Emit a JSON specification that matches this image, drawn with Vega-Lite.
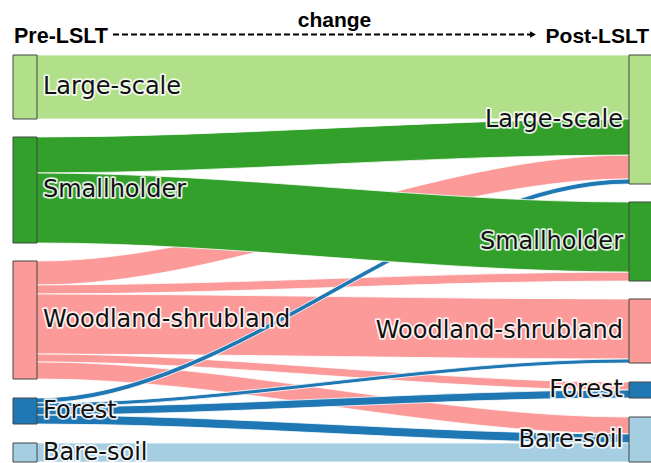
{
  "$schema": "https://vega.github.io/schema/vega-lite/v6.json",
  "width": 651,
  "height": 463,
  "padding": 0,
  "autosize": {"type": "none"},
  "config": {"view": {"stroke": null}},
  "datasets": {
    "links": [
      {"link": "LS-LS", "src": "Large-scale", "x": 13, "y0": 55, "y1": 119},
      {"link": "LS-LS", "src": "Large-scale", "x": 37, "y0": 55, "y1": 119},
      {"link": "LS-LS", "src": "Large-scale", "x": 629, "y0": 55, "y1": 119},
      {"link": "LS-LS", "src": "Large-scale", "x": 651, "y0": 55, "y1": 119},
      {"link": "SH-LS", "src": "Smallholder", "x": 13, "y0": 137, "y1": 173},
      {"link": "SH-LS", "src": "Smallholder", "x": 37, "y0": 137, "y1": 173},
      {"link": "SH-LS", "src": "Smallholder", "x": 629, "y0": 119, "y1": 155},
      {"link": "SH-LS", "src": "Smallholder", "x": 651, "y0": 119, "y1": 155},
      {"link": "SH-SH", "src": "Smallholder", "x": 13, "y0": 173, "y1": 243},
      {"link": "SH-SH", "src": "Smallholder", "x": 37, "y0": 173, "y1": 243},
      {"link": "SH-SH", "src": "Smallholder", "x": 629, "y0": 202, "y1": 272},
      {"link": "SH-SH", "src": "Smallholder", "x": 651, "y0": 202, "y1": 272},
      {"link": "WS-LS", "src": "Woodland-shrubland", "x": 13, "y0": 261, "y1": 285},
      {"link": "WS-LS", "src": "Woodland-shrubland", "x": 37, "y0": 261, "y1": 285},
      {"link": "WS-LS", "src": "Woodland-shrubland", "x": 629, "y0": 155, "y1": 179},
      {"link": "WS-LS", "src": "Woodland-shrubland", "x": 651, "y0": 155, "y1": 179},
      {"link": "WS-SH", "src": "Woodland-shrubland", "x": 13, "y0": 285, "y1": 294},
      {"link": "WS-SH", "src": "Woodland-shrubland", "x": 37, "y0": 285, "y1": 294},
      {"link": "WS-SH", "src": "Woodland-shrubland", "x": 629, "y0": 272, "y1": 281},
      {"link": "WS-SH", "src": "Woodland-shrubland", "x": 651, "y0": 272, "y1": 281},
      {"link": "WS-WS", "src": "Woodland-shrubland", "x": 13, "y0": 294, "y1": 354},
      {"link": "WS-WS", "src": "Woodland-shrubland", "x": 37, "y0": 294, "y1": 354},
      {"link": "WS-WS", "src": "Woodland-shrubland", "x": 629, "y0": 299, "y1": 359},
      {"link": "WS-WS", "src": "Woodland-shrubland", "x": 651, "y0": 299, "y1": 359},
      {"link": "WS-F", "src": "Woodland-shrubland", "x": 13, "y0": 354, "y1": 362},
      {"link": "WS-F", "src": "Woodland-shrubland", "x": 37, "y0": 354, "y1": 362},
      {"link": "WS-F", "src": "Woodland-shrubland", "x": 629, "y0": 382, "y1": 390},
      {"link": "WS-F", "src": "Woodland-shrubland", "x": 651, "y0": 382, "y1": 390},
      {"link": "WS-BS", "src": "Woodland-shrubland", "x": 13, "y0": 362, "y1": 379},
      {"link": "WS-BS", "src": "Woodland-shrubland", "x": 37, "y0": 362, "y1": 379},
      {"link": "WS-BS", "src": "Woodland-shrubland", "x": 629, "y0": 417, "y1": 434},
      {"link": "WS-BS", "src": "Woodland-shrubland", "x": 651, "y0": 417, "y1": 434},
      {"link": "F-LS", "src": "Forest", "x": 13, "y0": 398, "y1": 403},
      {"link": "F-LS", "src": "Forest", "x": 37, "y0": 398, "y1": 403},
      {"link": "F-LS", "src": "Forest", "x": 629, "y0": 179, "y1": 184},
      {"link": "F-LS", "src": "Forest", "x": 651, "y0": 179, "y1": 184},
      {"link": "F-WS", "src": "Forest", "x": 13, "y0": 403, "y1": 407},
      {"link": "F-WS", "src": "Forest", "x": 37, "y0": 403, "y1": 407},
      {"link": "F-WS", "src": "Forest", "x": 629, "y0": 359, "y1": 363},
      {"link": "F-WS", "src": "Forest", "x": 651, "y0": 359, "y1": 363},
      {"link": "F-F", "src": "Forest", "x": 13, "y0": 407, "y1": 415},
      {"link": "F-F", "src": "Forest", "x": 37, "y0": 407, "y1": 415},
      {"link": "F-F", "src": "Forest", "x": 629, "y0": 390, "y1": 398},
      {"link": "F-F", "src": "Forest", "x": 651, "y0": 390, "y1": 398},
      {"link": "F-BS", "src": "Forest", "x": 13, "y0": 415, "y1": 424},
      {"link": "F-BS", "src": "Forest", "x": 37, "y0": 415, "y1": 424},
      {"link": "F-BS", "src": "Forest", "x": 629, "y0": 434, "y1": 443},
      {"link": "F-BS", "src": "Forest", "x": 651, "y0": 434, "y1": 443},
      {"link": "BS-BS", "src": "Bare-soil", "x": 13, "y0": 443, "y1": 462},
      {"link": "BS-BS", "src": "Bare-soil", "x": 37, "y0": 443, "y1": 462},
      {"link": "BS-BS", "src": "Bare-soil", "x": 629, "y0": 443, "y1": 462},
      {"link": "BS-BS", "src": "Bare-soil", "x": 651, "y0": 443, "y1": 462}
    ],
    "nodes": [
      {"node": "Large-scale", "stage": "pre", "x0": 13, "x1": 37, "y0": 55, "y1": 119},
      {"node": "Smallholder", "stage": "pre", "x0": 13, "x1": 37, "y0": 137, "y1": 243},
      {"node": "Woodland-shrubland", "stage": "pre", "x0": 13, "x1": 37, "y0": 261, "y1": 379},
      {"node": "Forest", "stage": "pre", "x0": 13, "x1": 37, "y0": 398, "y1": 424},
      {"node": "Bare-soil", "stage": "pre", "x0": 13, "x1": 37, "y0": 443, "y1": 462},
      {"node": "Large-scale", "stage": "post", "x0": 629, "x1": 660, "y0": 55, "y1": 184},
      {"node": "Smallholder", "stage": "post", "x0": 629, "x1": 660, "y0": 202, "y1": 281},
      {"node": "Woodland-shrubland", "stage": "post", "x0": 629, "x1": 660, "y0": 299, "y1": 363},
      {"node": "Forest", "stage": "post", "x0": 629, "x1": 660, "y0": 382, "y1": 398},
      {"node": "Bare-soil", "stage": "post", "x0": 629, "x1": 660, "y0": 417, "y1": 462}
    ],
    "header": [
      {"t": "Pre-LSLT", "pos": "left", "x": 14, "y": 43},
      {"t": "Post-LSLT", "pos": "right", "x": 649, "y": 43},
      {"t": "change", "pos": "center", "x": 334.5, "y": 26.7}
    ],
    "arrow": [
      {"x": 113, "x2": 533, "y": 34.5}
    ]
  },
  "layer": [
    {
      "data": {"name": "links"},
      "transform": [{"filter": "datum.src === 'Woodland-shrubland'"}],
      "mark": {"type": "area", "interpolate": "monotone", "stroke": "white", "strokeWidth": 0.8},
      "encoding": {
        "x": {"field": "x", "type": "quantitative", "scale": {"domain": [0, 651], "nice": false, "zero": false}, "axis": null},
        "y": {"field": "y0", "type": "quantitative", "scale": {"domain": [0, 463], "reverse": true, "nice": false, "zero": false}, "axis": null},
        "y2": {"field": "y1"},
        "color": {"field": "src", "type": "nominal", "legend": null, "scale": {"domain": ["Large-scale", "Smallholder", "Woodland-shrubland", "Forest", "Bare-soil"], "range": ["#b2df8a", "#33a02c", "#fb9a99", "#1f78b4", "#a6cee3"]}},
        "detail": {"field": "link"}
      }
    },
    {
      "data": {"name": "links"},
      "transform": [{"filter": "datum.src === 'Forest'"}],
      "mark": {"type": "area", "interpolate": "monotone", "stroke": "white", "strokeWidth": 0.8},
      "encoding": {
        "x": {"field": "x", "type": "quantitative"},
        "y": {"field": "y0", "type": "quantitative"},
        "y2": {"field": "y1"},
        "color": {"field": "src", "type": "nominal", "legend": null},
        "detail": {"field": "link"}
      }
    },
    {
      "data": {"name": "links"},
      "transform": [{"filter": "datum.src !== 'Forest' && datum.src !== 'Woodland-shrubland'"}],
      "mark": {"type": "area", "interpolate": "monotone", "stroke": "white", "strokeWidth": 0.8},
      "encoding": {
        "x": {"field": "x", "type": "quantitative"},
        "y": {"field": "y0", "type": "quantitative"},
        "y2": {"field": "y1"},
        "color": {"field": "src", "type": "nominal", "legend": null},
        "detail": {"field": "link"}
      }
    },
    {
      "data": {"name": "nodes"},
      "mark": {"type": "rect", "stroke": "#444444", "strokeWidth": 1},
      "encoding": {
        "x": {"field": "x0", "type": "quantitative"},
        "x2": {"field": "x1"},
        "y": {"field": "y0", "type": "quantitative"},
        "y2": {"field": "y1"},
        "color": {"field": "node", "type": "nominal", "legend": null}
      }
    },
    {
      "data": {"name": "nodes"},
      "transform": [
        {"filter": "datum.stage === 'pre'"},
        {"calculate": "(datum.y0 + datum.y1) / 2", "as": "mid"}
      ],
      "mark": {"type": "text", "align": "left", "baseline": "middle", "dx": 6, "font": "DejaVu Sans", "fontSize": 24, "fill": "white", "stroke": "white", "strokeWidth": 3.5, "strokeJoin": "round", "strokeOpacity": 0.85},
      "encoding": {
        "x": {"field": "x1", "type": "quantitative"},
        "y": {"field": "mid", "type": "quantitative"},
        "text": {"field": "node"}
      }
    },
    {
      "data": {"name": "nodes"},
      "transform": [
        {"filter": "datum.stage === 'pre'"},
        {"calculate": "(datum.y0 + datum.y1) / 2", "as": "mid"}
      ],
      "mark": {"type": "text", "align": "left", "baseline": "middle", "dx": 6, "font": "DejaVu Sans", "fontSize": 24, "fill": "#111111"},
      "encoding": {
        "x": {"field": "x1", "type": "quantitative"},
        "y": {"field": "mid", "type": "quantitative"},
        "text": {"field": "node"}
      }
    },
    {
      "data": {"name": "nodes"},
      "transform": [
        {"filter": "datum.stage === 'post'"},
        {"calculate": "(datum.y0 + datum.y1) / 2", "as": "mid"}
      ],
      "mark": {"type": "text", "align": "right", "baseline": "middle", "dx": -6, "font": "DejaVu Sans", "fontSize": 24, "fill": "white", "stroke": "white", "strokeWidth": 3.5, "strokeJoin": "round", "strokeOpacity": 0.85},
      "encoding": {
        "x": {"field": "x0", "type": "quantitative"},
        "y": {"field": "mid", "type": "quantitative"},
        "text": {"field": "node"}
      }
    },
    {
      "data": {"name": "nodes"},
      "transform": [
        {"filter": "datum.stage === 'post'"},
        {"calculate": "(datum.y0 + datum.y1) / 2", "as": "mid"}
      ],
      "mark": {"type": "text", "align": "right", "baseline": "middle", "dx": -6, "font": "DejaVu Sans", "fontSize": 24, "fill": "#111111"},
      "encoding": {
        "x": {"field": "x0", "type": "quantitative"},
        "y": {"field": "mid", "type": "quantitative"},
        "text": {"field": "node"}
      }
    },
    {
      "data": {"name": "arrow"},
      "mark": {"type": "rule", "strokeDash": [6, 3], "strokeWidth": 1.8, "color": "black"},
      "encoding": {
        "x": {"field": "x", "type": "quantitative"},
        "x2": {"field": "x2"},
        "y": {"field": "y", "type": "quantitative"}
      }
    },
    {
      "data": {"name": "arrow"},
      "mark": {"type": "point", "shape": "triangle-right", "filled": true, "size": 45, "color": "black", "opacity": 1},
      "encoding": {
        "x": {"field": "x2", "type": "quantitative"},
        "y": {"field": "y", "type": "quantitative"}
      }
    },
    {
      "data": {"name": "header"},
      "transform": [{"filter": "datum.pos === 'left'"}],
      "mark": {"type": "text", "align": "left", "baseline": "alphabetic", "font": "Liberation Sans", "fontWeight": "bold", "fontSize": 21.5, "fill": "black"},
      "encoding": {
        "x": {"field": "x", "type": "quantitative"},
        "y": {"field": "y", "type": "quantitative"},
        "text": {"field": "t"}
      }
    },
    {
      "data": {"name": "header"},
      "transform": [{"filter": "datum.pos === 'right'"}],
      "mark": {"type": "text", "align": "right", "baseline": "alphabetic", "font": "Liberation Sans", "fontWeight": "bold", "fontSize": 21, "fill": "black"},
      "encoding": {
        "x": {"field": "x", "type": "quantitative"},
        "y": {"field": "y", "type": "quantitative"},
        "text": {"field": "t"}
      }
    },
    {
      "data": {"name": "header"},
      "transform": [{"filter": "datum.pos === 'center'"}],
      "mark": {"type": "text", "align": "center", "baseline": "alphabetic", "font": "Liberation Sans", "fontWeight": "bold", "fontSize": 21, "fill": "black"},
      "encoding": {
        "x": {"field": "x", "type": "quantitative"},
        "y": {"field": "y", "type": "quantitative"},
        "text": {"field": "t"}
      }
    }
  ]
}
